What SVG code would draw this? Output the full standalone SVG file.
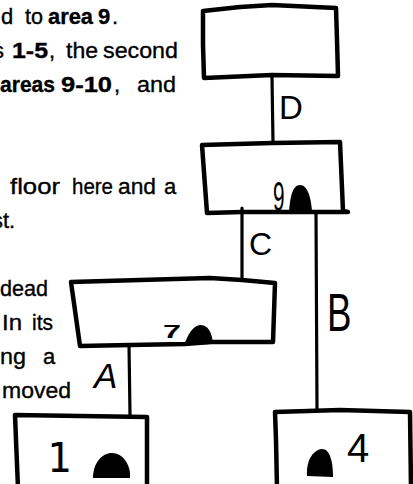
<svg xmlns="http://www.w3.org/2000/svg" width="413" height="484" viewBox="0 0 413 484">
<style>
.txt{font-family:"Liberation Sans",Arial,sans-serif;font-size:22px;fill:#000;stroke:#000;stroke-width:0.35}
.b{font-weight:bold}
.box{fill:none;stroke:#000;stroke-width:4.5;stroke-linejoin:round;stroke-linecap:round}
.edge{fill:none;stroke:#000;stroke-width:3.2;stroke-linecap:round}
.lbl{font-family:"Liberation Sans",Arial,sans-serif;fill:#000}
.dome{fill:#000}
</style>
<rect width="413" height="484" fill="#fff"/>
<g id="text" class="txt">
<text x="1" y="24">d</text>
<text x="25" y="24" textLength="18" lengthAdjust="spacingAndGlyphs">to</text>
<text x="48" y="24" class="b" textLength="45" lengthAdjust="spacingAndGlyphs">area</text>
<text x="98" y="24" class="b">9</text>
<text x="112" y="24">.</text>
<text x="-7" y="58">s</text>
<text x="12" y="58" class="b" textLength="36" lengthAdjust="spacingAndGlyphs">1-5</text>
<text x="49" y="58">,</text>
<text x="66" y="58" textLength="32" lengthAdjust="spacingAndGlyphs">the</text>
<text x="103" y="58" textLength="75" lengthAdjust="spacingAndGlyphs">second</text>
<text x="0" y="92" class="b" textLength="55" lengthAdjust="spacingAndGlyphs">areas</text>
<text x="61" y="92" class="b" textLength="51" lengthAdjust="spacingAndGlyphs">9-10</text>
<text x="114" y="92">,</text>
<text x="137" y="92" textLength="39" lengthAdjust="spacingAndGlyphs">and</text>
<text x="10" y="194" textLength="50" lengthAdjust="spacingAndGlyphs">floor</text>
<text x="72" y="194" textLength="41" lengthAdjust="spacingAndGlyphs">here</text>
<text x="118" y="194" textLength="38" lengthAdjust="spacingAndGlyphs">and</text>
<text x="164" y="194">a</text>
<text x="-8" y="228">st.</text>
<text x="0" y="296" textLength="48" lengthAdjust="spacingAndGlyphs">dead</text>
<text x="2" y="330" textLength="20" lengthAdjust="spacingAndGlyphs">In</text>
<text x="32" y="330" textLength="21" lengthAdjust="spacingAndGlyphs">its</text>
<text x="0" y="364" textLength="26" lengthAdjust="spacingAndGlyphs">ng</text>
<text x="43" y="364">a</text>
<text x="2" y="398" textLength="69" lengthAdjust="spacingAndGlyphs">moved</text>
</g>
<g id="connectors">
<path id="edge-D" class="edge" d="M272,77 L273,143"/>
<path id="edge-C" class="edge" d="M242,208 L242,280"/>
<path id="edge-B" class="edge" d="M316,212 L317,410"/>
<path id="edge-A" class="edge" d="M129,345 L130,415"/>
<text class="lbl" x="279" y="119" font-size="33">D</text>
<text class="lbl" x="249" y="255" font-size="32">C</text>
<text class="lbl" transform="translate(327,331) scale(0.68,1)" font-size="54">B</text>
<text class="lbl" x="94" y="388" font-size="35" font-style="italic">A</text>
</g>
<g id="node-top">
<path class="box" d="M203,11 L240,7 L272,5 L336,8 L337,40 L338,76 L272,75 L204,78 L203,45 Z"/>
</g>
<g id="node-9">
<path class="box" d="M202,145 L272,143 L340,142 L343,211 L348,212 L242,212 L207,213 Z"/>
<text class="lbl" transform="translate(273,211) scale(0.65,1.35)" font-size="32">9</text>
<path class="dome" d="M289,212 C290,196 293,185 300,185 C307,185 311,196 312,212 Z"/>
</g>
<g id="node-7">
<path class="box" d="M71,282 L140,280 L210,278 L242,280 L275,283 L273,342 L210,342 L185,344 L130,345 L80,346 Z"/>
<text class="lbl" transform="translate(163,338) scale(1.8,1)" font-size="18" font-weight="bold">7</text>
<path class="dome" d="M184,345 C188,335 192,326 200,325 C208,325 212,332 213,344 Z"/>
</g>
<g id="node-1">
<path class="box" d="M18,488 L16,440 L15,415 L80,416 L147,417 L147,488"/>
<text x="47" y="472" font-family="'DejaVu Sans Mono',monospace" font-size="40" fill="#000">1</text>
<path class="dome" d="M93,478 C93,463 102,453 112,453 C123,453 131,465 130,478 Z"/>
</g>
<g id="node-4">
<path class="box" d="M277,488 L276,440 L275,412 L340,410 L410,412 L411,488"/>
<text class="lbl" x="347" y="462" font-size="40">4</text>
<path class="dome" d="M307,476 C306,462 312,450 322,449 C330,449 333,462 333,477 Z"/>
</g>
</svg>
